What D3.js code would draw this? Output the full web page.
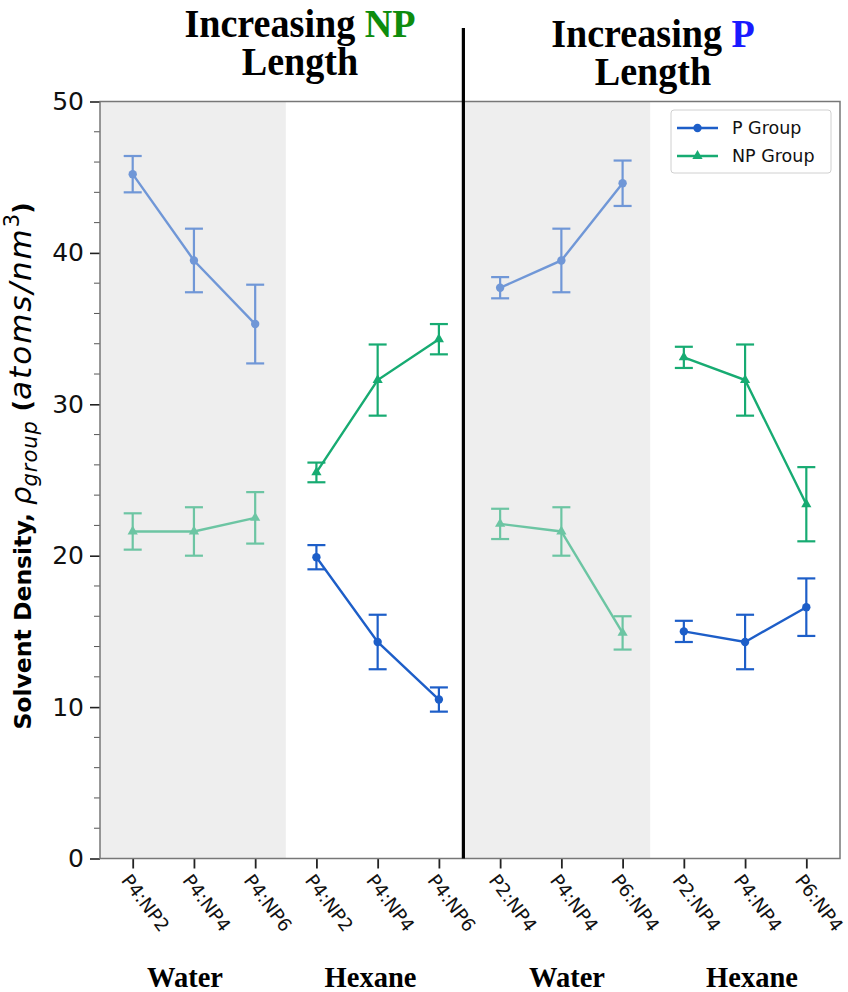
<!DOCTYPE html>
<html>
<head>
<meta charset="utf-8">
<script src="https://cdn.jsdelivr.net/npm/d3@7"></script>
<style>
  body { margin: 0; background: #fff; }
  svg { display: block; }
</style>
</head>
<body>
<svg id="chart"></svg>
<script>
// sample labels along x, one per point
const categories = ["P4:NP2", "P4:NP4", "P4:NP6", "P4:NP2", "P4:NP4", "P4:NP6",
                    "P2:NP4", "P4:NP4", "P6:NP4", "P2:NP4", "P4:NP4", "P6:NP4"];
const solvents = ["Water", "Hexane", "Water", "Hexane"];
const solventIsWater = [true, false, true, false];

// solvent density (atoms/nm^3)
const pGroup = [45.2, 39.5, 35.3, 19.9, 14.3, 10.5, 37.7, 39.5, 44.6, 15.0, 14.3, 16.6];
const pErr = [1.2, 2.1, 2.6, 0.8, 1.8, 0.8, 0.7, 2.1, 1.5, 0.7, 1.8, 1.9];
const npGroup = [21.6, 21.6, 22.5, 25.5, 31.6, 34.3, 22.1, 21.6, 14.9, 33.1, 31.6, 23.4];
const npErr = [1.2, 1.6, 1.7, 0.65, 2.35, 1.0, 1.0, 1.6, 1.1, 0.7, 2.35, 2.45];

const yTicks = [0, 10, 20, 30, 40, 50];
const shadeSpans = [[-0.534, 2.5], [5.4, 8.45]];
const dividerAt = 5.4;

const width = 848;
const height = 992;

const svg = d3.select("#chart")
  .attr("width", width)
  .attr("height", height);

const x = d3.scaleLinear().domain([-0.534, 11.55]).range([100, 840]);
const y = d3.scaleLinear().domain([0, 50]).range([858.5, 101.5]);

const blue = "#1d5ec8";
const green = "#17ab72";

// water shading
svg.selectAll("rect.shade")
  .data(shadeSpans)
  .join("rect")
  .attr("class", "shade")
  .attr("x", d => x(d[0]))
  .attr("y", y(50))
  .attr("width", d => x(d[1]) - x(d[0]))
  .attr("height", y(0) - y(50))
  .attr("fill", "#eeeeee");

// y axis, major + minor ticks
const yAxis = svg.append("g")
  .attr("transform", `translate(${x.range()[0]},0)`)
  .call(d3.axisLeft(y).tickValues(yTicks).tickSize(10).tickPadding(6));
yAxis.select(".domain").remove();
yAxis.selectAll(".tick line").attr("stroke", "#222").attr("stroke-width", 1.6);
yAxis.selectAll(".tick text")
  .style("font-family", "DejaVu Sans")
  .style("font-size", "25px")
  .attr("fill", "#111");

svg.append("g")
  .selectAll("line")
  .data(d3.range(0, 51, 2).filter(v => v % 10 !== 0))
  .join("line")
  .attr("x1", x.range()[0] - 6)
  .attr("x2", x.range()[0])
  .attr("y1", d => y(d))
  .attr("y2", d => y(d))
  .attr("stroke", "#555")
  .attr("stroke-width", 1);

// x axis
const xAxis = svg.append("g")
  .attr("transform", `translate(0,${y(0)})`)
  .call(d3.axisBottom(x).tickValues(d3.range(categories.length)).tickSize(10).tickFormat(""));
xAxis.select(".domain").remove();
xAxis.selectAll(".tick line").attr("stroke", "#222").attr("stroke-width", 1.8);

svg.append("g")
  .selectAll("text")
  .data(categories)
  .join("text")
  .attr("transform", (d, i) => `translate(${x(i) - 7},${y(0) + 18}) rotate(53)`)
  .attr("dominant-baseline", "central")
  .style("font-family", "DejaVu Sans")
  .style("font-size", "18.5px")
  .attr("fill", "#111")
  .text(d => d);

// frame
svg.append("rect")
  .attr("x", x.range()[0])
  .attr("y", y(50))
  .attr("width", x.range()[1] - x.range()[0])
  .attr("height", y(0) - y(50))
  .attr("fill", "none")
  .attr("stroke", "#777")
  .attr("stroke-width", 1.5);

// series, drawn per solvent block of three
const series = [
  { name: "P Group", values: pGroup, err: pErr, color: blue, marker: d3.symbolCircle, size: 55 },
  { name: "NP Group", values: npGroup, err: npErr, color: green, marker: d3.symbolTriangle, size: 45 }
];

const line = d3.line().x(d => x(d.i)).y(d => y(d.v));

series.forEach(s => {
  solvents.forEach((solv, b) => {
    const pts = d3.range(b * 3, b * 3 + 3).map(i => ({ i, v: s.values[i], e: s.err[i] }));
    const g = svg.append("g").attr("opacity", solventIsWater[b] ? 0.6 : 1);

    g.append("path")
      .datum(pts)
      .attr("d", line)
      .attr("fill", "none")
      .attr("stroke", s.color)
      .attr("stroke-width", 2.4);

    const eb = g.selectAll("g.err")
      .data(pts)
      .join("g")
      .attr("class", "err")
      .attr("stroke", s.color)
      .attr("stroke-width", 2.2);
    eb.append("line")
      .attr("x1", d => x(d.i)).attr("x2", d => x(d.i))
      .attr("y1", d => y(d.v + d.e)).attr("y2", d => y(d.v - d.e));
    eb.append("line")
      .attr("x1", d => x(d.i) - 9).attr("x2", d => x(d.i) + 9)
      .attr("y1", d => y(d.v + d.e)).attr("y2", d => y(d.v + d.e));
    eb.append("line")
      .attr("x1", d => x(d.i) - 9).attr("x2", d => x(d.i) + 9)
      .attr("y1", d => y(d.v - d.e)).attr("y2", d => y(d.v - d.e));

    g.selectAll("path.mk")
      .data(pts)
      .join("path")
      .attr("class", "mk")
      .attr("d", d3.symbol().type(s.marker).size(s.size))
      .attr("transform", d => `translate(${x(d.i)},${y(d.v)})`)
      .attr("fill", s.color);
  });
});

// divider between the two panels
svg.append("line")
  .attr("x1", x(dividerAt)).attr("x2", x(dividerAt))
  .attr("y1", 28).attr("y2", y(0))
  .attr("stroke", "#000")
  .attr("stroke-width", 3.2);

// legend
const legend = svg.append("g").attr("transform", "translate(671,110)");
legend.append("rect")
  .attr("width", 160).attr("height", 63).attr("rx", 3)
  .attr("fill", "#fff").attr("fill-opacity", 0.85)
  .attr("stroke", "#d0d0d0");
series.forEach((s, k) => {
  const row = legend.append("g").attr("transform", `translate(0,${18 + k * 28})`);
  row.append("line").attr("x1", 6).attr("x2", 47)
    .attr("stroke", s.color).attr("stroke-width", 2.4);
  row.append("path")
    .attr("d", d3.symbol().type(s.marker).size(s.size)())
    .attr("transform", "translate(26.5,0)")
    .attr("fill", s.color);
  row.append("text")
    .attr("x", 61).attr("dy", "0.36em")
    .style("font-family", "DejaVu Sans")
    .style("font-size", "17.5px")
    .attr("fill", "#111")
    .text(s.name);
});

// panel titles
const serif = "Liberation Serif";
function title(cx, y0, word, color) {
  const t = svg.append("g").attr("transform", `translate(${cx},0) scale(0.93,1)`);
  const l1 = t.append("text").attr("y", y0).attr("text-anchor", "middle")
    .style("font-family", serif).style("font-weight", "bold").style("font-size", "41px");
  l1.append("tspan").text("Increasing ");
  l1.append("tspan").attr("fill", color).text(word);
  t.append("text").attr("y", y0 + 38).attr("text-anchor", "middle")
    .style("font-family", serif).style("font-weight", "bold").style("font-size", "41px")
    .text("Length");
}
title(300, 37, "NP", "#0e8c0e");
title(653, 47, "P", "#1a1aff");

// solvent labels under the ticks
const solventX = [185, 370.5, 567, 752];
svg.append("g")
  .selectAll("text")
  .data(solvents)
  .join("text")
  .attr("x", (d, i) => solventX[i])
  .attr("y", 986.5)
  .attr("text-anchor", "middle")
  .style("font-family", serif)
  .style("font-weight", "bold")
  .style("font-size", "28.5px")
  .text(d => d);

// y label with math part
const yl = svg.append("text")
  .attr("transform", `translate(31,466) rotate(-90)`)
  .attr("text-anchor", "middle")
  .style("font-family", "DejaVu Sans")
  .attr("fill", "#000");
yl.append("tspan").style("font-weight", "bold").style("font-size", "23.5px").text("Solvent Density, ");
yl.append("tspan").style("font-style", "italic").style("font-size", "29px").text("ρ");
yl.append("tspan").style("font-style", "italic").style("font-size", "21px")
  .style("letter-spacing", "1px").attr("dy", 6).text("group");
yl.append("tspan").style("font-weight", "bold").style("font-size", "25px").attr("dy", -6).text(" (");
yl.append("tspan").style("font-style", "italic").style("font-size", "31px")
  .style("letter-spacing", "2px").text("atoms/nm");
yl.append("tspan").style("font-size", "21px").attr("dy", -12).text("3");
yl.append("tspan").style("font-weight", "bold").style("font-size", "25px").attr("dy", 12).text(")");
</script>
</body>
</html>
